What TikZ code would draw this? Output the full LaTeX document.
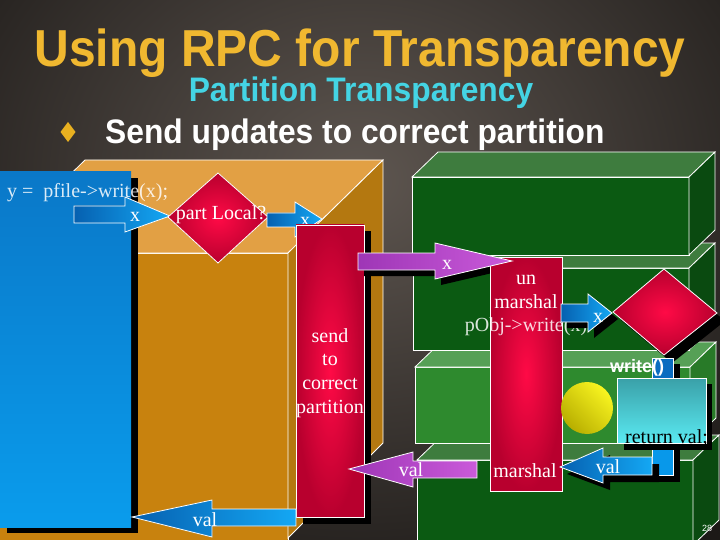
\documentclass[tikz,border=0pt]{standalone}
\usepackage{fontspec}
\setmainfont{Liberation Serif}
\newfontfamily\hdfont{Liberation Sans}
\definecolor{titleY}{HTML}{F0B830}
\definecolor{subC}{HTML}{44D4E4}
\definecolor{bulY}{HTML}{E8B020}
\definecolor{bgin}{HTML}{5E5650}
\definecolor{bgout}{HTML}{1C1917}
\definecolor{orF}{HTML}{C8820E}
\definecolor{orT}{HTML}{E2A044}
\definecolor{orS}{HTML}{B47810}
\definecolor{gnF}{HTML}{0B5A12}
\definecolor{gnT}{HTML}{3E7C3E}
\definecolor{gnS}{HTML}{0A4A10}
\definecolor{glF}{HTML}{2E8A2E}
\definecolor{glT}{HTML}{56A056}
\definecolor{glS}{HTML}{287A28}
\definecolor{bluD}{HTML}{0660B0}
\definecolor{bluL}{HTML}{14A8F4}
\definecolor{purD}{HTML}{9E36B6}
\definecolor{purL}{HTML}{CA5ADA}
\definecolor{redI}{HTML}{FF0A46}
\definecolor{redO}{HTML}{B8002E}
\definecolor{boxT}{HTML}{0A78C8}
\definecolor{boxB}{HTML}{0A9CEC}
\definecolor{wrB}{HTML}{0A6CC0}
\definecolor{retB}{HTML}{0898EA}
\definecolor{cyT}{HTML}{3AA0A8}
\definecolor{cyB}{HTML}{5AEAF2}
\definecolor{ylT}{HTML}{F8F420}
\definecolor{ylB}{HTML}{B8AE00}
\newcommand\cuboid[7]{%
  \filldraw[#5] (#1,#2) rectangle (#3,#4);
  \filldraw[#6] (#1,#2) -- ({#1+26},{#2-25}) -- ({#3+26},{#2-25}) -- (#3,#2) -- cycle;
  \filldraw[#7] (#3,#2) -- ({#3+26},{#2-25}) -- ({#3+26},{#4-25}) -- (#3,#4) -- cycle;}
\begin{document}
\begin{tikzpicture}[x=1pt,y=-1pt,
  edge/.style={draw=white,line width=0.8pt},
  lbl/.style={text=white,font=\fontsize{20}{22}\selectfont,inner sep=0pt},
  bluearrow/.style={left color=bluD,right color=bluL,edge},
  purparrow/.style={left color=purD,right color=purL,edge},
  redshape/.style={inner color=redI,outer color=redO,edge},
  shadowfill/.style={fill=black}]
\useasboundingbox (0,0) rectangle (720,540);
\clip (0,0) rectangle (720,540);
% background
\fill[inner color=bgin,outer color=bgout] (-160,-260) rectangle (880,620);
% titles
\node[anchor=base,text=titleY,font=\hdfont\bfseries\fontsize{52}{60}\selectfont] (title) at (360,67) {\scalebox{0.923}[1]{Using RPC for Transparency}};
\node[anchor=base,text=subC,font=\hdfont\bfseries\fontsize{34}{40}\selectfont] (sub) at (361,102) {\scalebox{0.935}[1]{Partition Transparency}};
\fill[bulY] (68,122) -- (75.5,132) -- (68,142) -- (60.5,132) -- cycle;
\node[anchor=base west,text=white,font=\hdfont\bfseries\fontsize{34}{40}\selectfont,inner sep=0pt] (bul) at (105,144) {\scalebox{0.934}[1]{Send updates to correct partition}};
% orange cuboid
\filldraw[fill=orF,edge] (-10,253) rectangle (288,545);
\filldraw[fill=orT,edge] (-10,253) -- (85,160) -- (383,160) -- (288,253) -- cycle;
\filldraw[fill=orS,edge] (288,253) -- (383,160) -- (383,443) -- (288,538) -- cycle;
% green cuboids (bottom first)
\cuboid{417}{460}{693}{545}{fill=gnF,edge}{fill=gnT,edge}{fill=gnS,edge}
\cuboid{415}{367}{690}{443}{fill=glF,edge}{fill=glT,edge}{fill=glS,edge}
\cuboid{413}{268}{689}{350}{fill=gnF,edge}{fill=gnT,edge}{fill=gnS,edge}
\cuboid{412}{177}{689}{255}{fill=gnF,edge}{fill=gnT,edge}{fill=gnS,edge}
% client box
\fill[shadowfill] (7,178) rectangle (138,533);
\fill[top color=boxT,bottom color=boxB] (0,172) rectangle (131,527);
% arrow x 1
\filldraw[bluearrow] (74,206) -- (125,206) -- (125,197) -- (170,216) -- (125,232) -- (125,223) -- (74,223) -- cycle;
\node[lbl] (x1) at (135,217) {x};
\node[anchor=base west,text=white,text opacity=0.85,font=\fontsize{20}{22}\selectfont,inner sep=0pt] (call) at (7,198) {y =\ \ pfile->write(x);};
% diamond part Local?
\filldraw[redshape] (168,217) -- (218,173) -- (268,217) -- (218,263) -- cycle;
\node[lbl] (dec) at (221,215) {part Local?};
% arrow x 2
\filldraw[bluearrow] (267,213) -- (295,213) -- (295,202) -- (322,219) -- (295,237) -- (295,227) -- (267,227) -- cycle;
\node[lbl] (x2) at (305,222) {x};
% send rect
\fill[shadowfill] (303,231) rectangle (371,524);
\filldraw[redshape] (296,225) rectangle (364,517);
\node[lbl,anchor=base] (s1) at (330,342) {send};
\node[lbl,anchor=base] (s2) at (330,365) {to};
\node[lbl,anchor=base] (s3) at (330,389) {correct};
\node[lbl,anchor=base] (s4) at (330,413) {partition};
% purple arrow x
\fill[shadowfill,shift={(6,6)}] (358,253) -- (435,253) -- (435,243) -- (512,261) -- (435,279) -- (435,270) -- (358,270) -- cycle;
% unmarshal rect
\filldraw[redshape] (490,257) rectangle (562,491);
\filldraw[purparrow] (358,253) -- (435,253) -- (435,243) -- (512,261) -- (435,279) -- (435,270) -- (358,270) -- cycle;
\node[lbl] (x3) at (447,265) {x};
\node[lbl,anchor=base] (u1) at (526,284) {un};
\node[lbl,anchor=base] (u2) at (526,308) {marshal};
\node[lbl,anchor=base,text opacity=0.85] (u3) at (526,331) {pObj->write(x)};
\node[lbl,anchor=base] (u4) at (525,477) {marshal};
% small arrow x 4
\fill[shadowfill,shift={(6,6)}] (561,304) -- (588,304) -- (588,294) -- (612,313) -- (588,332) -- (588,322) -- (561,322) -- cycle;
\filldraw[bluearrow] (561,304) -- (588,304) -- (588,294) -- (612,313) -- (588,332) -- (588,322) -- (561,322) -- cycle;
\node[lbl] (x4) at (598,318) {x};
% right diamond
\fill[shadowfill,shift={(8,8)}] (613,312) -- (664,269) -- (717,313) -- (664,355) -- cycle;
\filldraw[redshape] (613,312) -- (664,269) -- (717,313) -- (664,355) -- cycle;
% write() connector
\fill[shadowfill] (659,364) rectangle (680,384);
\filldraw[fill=wrB,edge] (652,358) rectangle (673,378);
\node[anchor=base west,text=white,font=\hdfont\bfseries\fontsize{18}{20}\selectfont,inner sep=0pt] (wr) at (610,372) {write()};
% yellow ball
\shade[top color=ylT,bottom color=ylB,shading angle=-45] (587,408) circle (26);
% return path
\fill[shadowfill] (659,450) rectangle (680,482);
\filldraw[fill=retB,edge] (652,443) rectangle (673,475);
\fill[shadowfill,shift={(7,7)}] (560,467) -- (603,448) -- (603,457) -- (652,457) -- (652,475) -- (603,475) -- (603,483) -- cycle;
\filldraw[bluearrow] (560,467) -- (603,448) -- (603,457) -- (652,457) -- (652,475) -- (603,475) -- (603,483) -- cycle;
\node[lbl] (v1) at (608,467) {val};
\fill[shadowfill] (624,384) rectangle (712,450);
\filldraw[top color=cyT,bottom color=cyB,edge] (617,378) rectangle (706,443);
\node[anchor=base west,text=black,font=\fontsize{20}{22}\selectfont,inner sep=0pt] (ret) at (625,443) {return val;};
% purple val arrow
\filldraw[purparrow] (349,469) -- (413,452) -- (413,461) -- (477,461) -- (477,478) -- (413,478) -- (413,487) -- cycle;
\node[lbl] (v2) at (411,470) {val};
% bottom blue val arrow
\filldraw[bluearrow] (132,517) -- (212,500) -- (212,509) -- (296,509) -- (296,526) -- (212,526) -- (212,537) -- cycle;
\node[lbl] (v3) at (205,520) {val};
% page number
\node[text=white,font=\hdfont\fontsize{9}{10}\selectfont,inner sep=0pt] (pg) at (707,528) {28};
\end{tikzpicture}
\end{document}
